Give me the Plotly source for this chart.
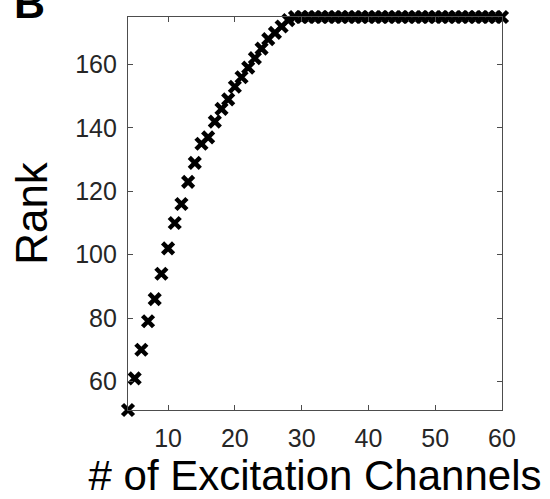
import plotly.graph_objects as go

channels = list(range(4, 61))
rank = [51, 61, 70, 79, 86, 94, 102, 110, 116, 123,
        129, 135, 137, 142, 146, 149, 153, 156, 159, 162,
        165, 168, 170, 172, 174, 175] + [175] * 31

x_ticks = [10, 20, 30, 40, 50, 60]
y_ticks = [60, 80, 100, 120, 140, 160]

FONT = "Liberation Sans, Arial, sans-serif"
AX = "#4d4d4d"
TXT = "#262626"

fig = go.Figure()
fig.add_trace(go.Scatter(
    x=channels, y=rank, mode="markers",
    marker=dict(symbol="x-thin", size=11, color="black",
                line=dict(color="black", width=4.5)),
    cliponaxis=False, showlegend=False, hoverinfo="skip",
))

axis_common = dict(
    showgrid=False, zeroline=False, showline=True, mirror="ticks",
    linecolor=AX, linewidth=1.3, ticks="inside", ticklen=5,
    tickwidth=1.3, tickcolor=AX, automargin=False,
    tickfont=dict(family=FONT, size=25, color=TXT),
)

fig.update_layout(
    width=550, height=499,
    margin=dict(l=128, r=48, t=17, b=89, pad=0),
    paper_bgcolor="white", plot_bgcolor="white",
    xaxis=dict(range=[4, 60], tickvals=x_ticks, ticklabelstandoff=6,
               title=dict(text="# of Excitation Channels",
                          font=dict(family=FONT, size=42, color="black"),
                          standoff=16),
               **axis_common),
    yaxis=dict(range=[51, 175], tickvals=y_ticks, ticklabelstandoff=5,
               title=dict(text="Rank",
                          font=dict(family=FONT, size=44, color="black"),
                          standoff=13),
               **axis_common),
    annotations=[dict(text="<b>B</b>", xref="paper", yref="paper",
                      x=-0.31, y=1.036, xanchor="left", yanchor="middle",
                      showarrow=False,
                      font=dict(family=FONT, size=43, color="black"))],
)

fig.write_html("out.html", config={"displayModeBar": False},
               post_script="document.body.style.margin='0';")
